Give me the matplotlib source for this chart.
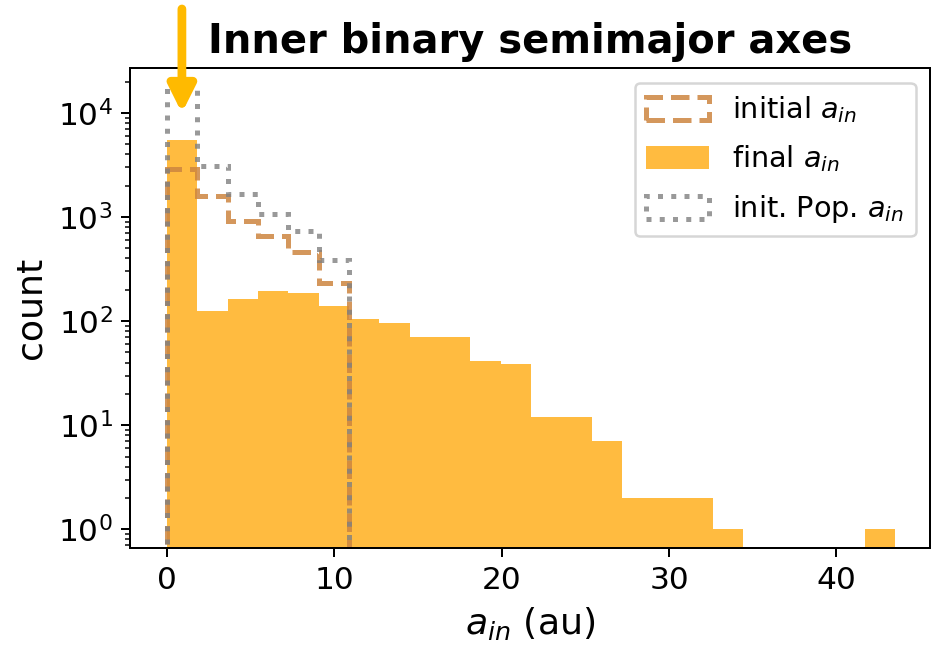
import numpy as np
import matplotlib
matplotlib.use('Agg')
import matplotlib.pyplot as plt

# bin edges shared by all three histograms (au)
edges = np.linspace(0, 43.5, 25)

# counts per bin
final_counts = [5500, 125, 165, 195, 188, 140, 104, 96, 70, 70, 41, 39,
                12, 12, 7, 2, 2, 2, 1, 0, 0, 0, 0, 1]
initial_counts = [2900, 1600, 910, 660, 465, 230]
pop_counts = [17900, 3100, 1650, 1080, 740, 390]

fig = plt.figure(figsize=(932 / 180, 649 / 180), dpi=180)
ax = fig.add_axes([0.1395, 0.1556, 0.8585, 0.7394])

ax.hist(edges[:6] + 0.5, bins=edges[:7], weights=initial_counts, histtype='step',
        log=True, color='peru', alpha=0.85, linestyle='--', linewidth=2,
        label='initial $a_{in}$', zorder=2)
ax.hist(edges[:-1] + 0.5, bins=edges, weights=final_counts, histtype='stepfilled',
        log=True, color='orange', alpha=0.75, label='final $a_{in}$', zorder=1)
ax.hist(edges[:6] + 0.5, bins=edges[:7], weights=pop_counts, histtype='step',
        log=True, color='grey', alpha=0.8, linestyle=':', linewidth=2,
        label='init. Pop. $a_{in}$', zorder=3)

# arrow marking the first bin
ax.annotate('', xy=(0.9, 1.0e4), xytext=(0.9, 1.0e5),
            arrowprops=dict(arrowstyle='-|>', color='#FFBA00', lw=3.5,
                            mutation_scale=22, shrinkA=0, shrinkB=0,
                            capstyle='round'),
            annotation_clip=False, zorder=5)

ax.set_xlim(-2.2, 45.6)
ax.set_ylim(0.66, 27000)
ax.set_xticks([0, 10, 20, 30, 40])
ax.tick_params(labelsize=12.5)
ax.set_xlabel('$a_{in}$ (au)', fontsize=14.5)
ax.set_ylabel('count', fontsize=14.5)
ax.set_title('Inner binary semimajor axes', fontsize=16, fontweight='bold')
ax.legend(loc='upper right', fontsize=11.5, handlelength=2.2, handleheight=0.85,
          labelspacing=0.65)

fig.savefig('out.png', dpi=180)
